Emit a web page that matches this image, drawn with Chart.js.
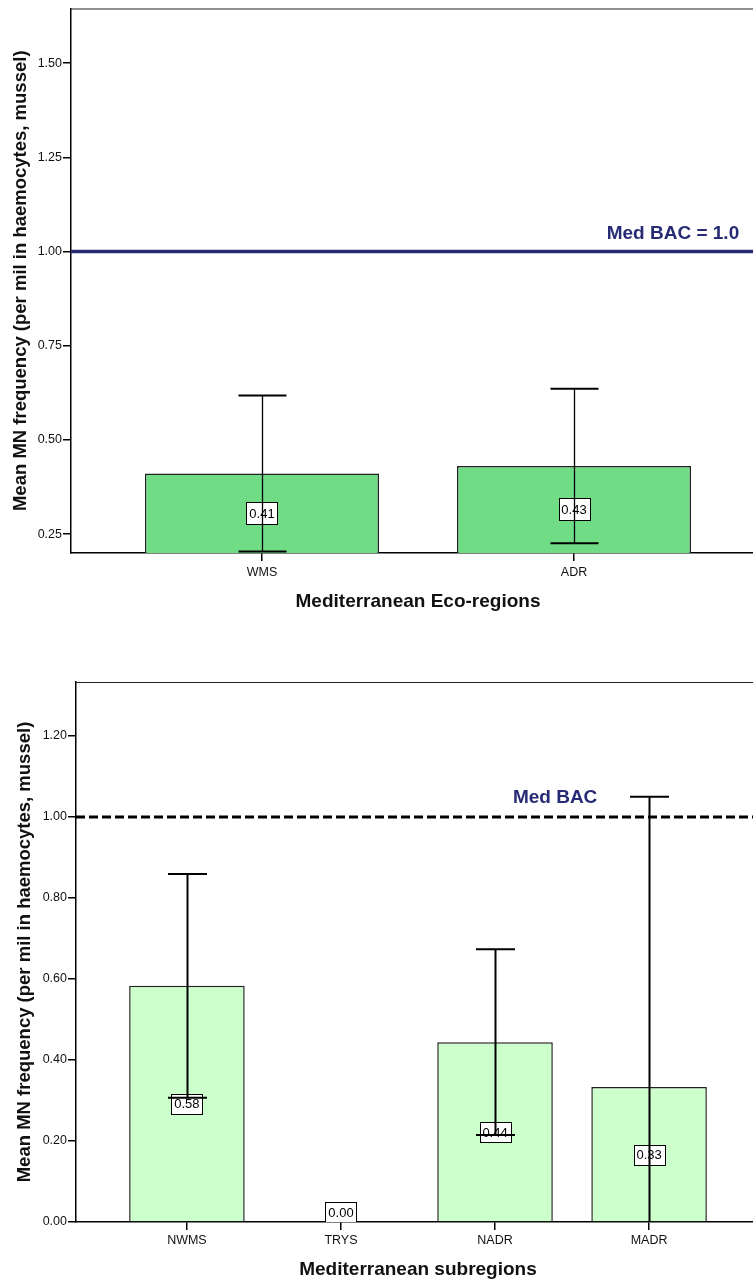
<!DOCTYPE html>
<html lang="en">
<head>
<meta charset="UTF-8">
<title>Mean MN frequency - Mediterranean regions</title>
<script src="https://cdn.jsdelivr.net/npm/chart.js"></script>
<style>
  html, body { margin: 0; padding: 0; background: #fff; overflow: hidden; }
  .frame { position: absolute; left: 0; width: 753px; overflow: hidden; }
  #topBox { top: 0; height: 630px; }
  #botBox { top: 640px; height: 641px; }
  canvas { display: block; }
</style>
</head>
<body>
<div class="frame" id="topBox"><canvas id="ecoChart" width="780" height="630"></canvas></div>
<div class="frame" id="botBox"><canvas id="subChart" width="780" height="641"></canvas></div>

<script>
// eco-regions (top chart)
const ecoLabels = ['WMS', 'ADR'];
const ecoMeans = [0.411, 0.431];
const ecoErrors = [0.207, 0.205];
const ecoYTicks = [0.25, 0.50, 0.75, 1.00, 1.25, 1.50];

// subregions (bottom chart)
const subLabels = ['NWMS', 'TRYS', 'NADR', 'MADR'];
const subMeans = [0.583, 0.00, 0.444, 0.333];
const subErrors = [0.276, 0.00, 0.229, 0.717];
const subYTicks = [0.00, 0.20, 0.40, 0.60, 0.80, 1.00, 1.20];

const medBAC = 1.0;

const FONT = '"Liberation Sans", Arial, Helvetica, sans-serif';
const NAVY = '#272b74';

// frame top, BAC line, value boxes and error bars
const barExtras = {
  id: 'barExtras',
  afterDatasetsDraw(chart, args, o) {
    const { ctx, chartArea: a, scales: { x, y } } = chart;
    ctx.save();

    ctx.strokeStyle = '#222';
    ctx.lineWidth = 1;
    ctx.beginPath();
    ctx.moveTo(a.left, a.top + 0.5);
    ctx.lineTo(a.right, a.top + 0.5);
    ctx.stroke();

    const yb = y.getPixelForValue(o.bac);
    ctx.strokeStyle = o.bacColor;
    ctx.lineWidth = o.bacWidth;
    ctx.setLineDash(o.bacDash);
    ctx.beginPath();
    ctx.moveTo(a.left, yb);
    ctx.lineTo(a.right, yb);
    ctx.stroke();
    ctx.setLineDash([]);

    ctx.font = 'bold 19px ' + FONT;
    ctx.fillStyle = NAVY;
    ctx.textAlign = 'center';
    ctx.textBaseline = 'alphabetic';
    ctx.fillText(o.bacText, x.getPixelForValue(o.bacTextAt), yb - o.bacGap);

    ctx.beginPath();
    ctx.rect(a.left, a.top, a.right - a.left, a.bottom - a.top);
    ctx.clip();

    // value boxes
    ctx.font = '13px ' + FONT;
    ctx.textBaseline = 'middle';
    const base = Math.max(y.min, 0);
    o.means.forEach((m, i) => {
      const cx = x.getPixelForValue(i);
      let cy = y.getPixelForValue((base + m) / 2);
      cy = Math.min(cy, a.bottom - o.boxH / 2);
      const txt = m.toFixed(2);
      const w = Math.round(ctx.measureText(txt).width + 6);
      const bx = Math.round(cx - w / 2) + 0.5, by = Math.round(cy - o.boxH / 2) + 0.5;
      ctx.fillStyle = '#fff';
      ctx.fillRect(bx, by, w, o.boxH);
      ctx.strokeStyle = '#000';
      ctx.lineWidth = 1;
      ctx.strokeRect(bx, by, w, o.boxH);
      ctx.fillStyle = '#000';
      ctx.fillText(txt, cx, cy + 1);
    });

    // error bars
    ctx.strokeStyle = '#000';
    o.means.forEach((m, i) => {
      const e = o.errors[i];
      if (!e) return;
      const cx = Math.round(x.getPixelForValue(i)) + 0.5;
      const hi = y.getPixelForValue(m + e), lo = y.getPixelForValue(m - e);
      ctx.lineWidth = o.stemWidth;
      ctx.beginPath();
      ctx.moveTo(cx, hi);
      ctx.lineTo(cx, lo);
      ctx.stroke();
      ctx.lineWidth = o.capWidth;
      ctx.beginPath();
      ctx.moveTo(cx - o.capLen / 2, hi);
      ctx.lineTo(cx + o.capLen / 2, hi);
      ctx.moveTo(cx - o.capLen / 2, lo);
      ctx.lineTo(cx + o.capLen / 2, lo);
      ctx.stroke();
    });

    ctx.restore();
  }
};

function makeChart(id, s) {
  return new Chart(document.getElementById(id), {
    type: 'bar',
    data: {
      datasets: [{
        data: s.means.map((v, i) => ({ x: i, y: v })),
        backgroundColor: s.fill,
        borderColor: '#222',
        borderWidth: 1.5,
        borderSkipped: 'start',
        barPercentage: 0.75,
        categoryPercentage: 1
      }]
    },
    options: {
      responsive: false,
      animation: false,
      events: [],
      layout: { padding: { left: 0, right: s.padRight, top: s.padTop, bottom: 0 } },
      plugins: {
        legend: { display: false },
        tooltip: { enabled: false },
        barExtras: {
          means: s.means, errors: s.errors,
          bac: medBAC, bacText: s.bacText, bacTextAt: s.bacTextAt, bacGap: s.bacGap,
          bacColor: s.bacColor, bacWidth: s.bacWidth, bacDash: s.bacDash,
          boxH: s.boxH, stemWidth: s.stemWidth, capWidth: 2, capLen: s.capLen
        }
      },
      scales: {
        x: {
          type: 'linear',
          offset: false,
          min: s.xMin, max: s.xMax,
          afterBuildTicks: sc => { sc.ticks = s.labels.map((_, i) => ({ value: i })); },
          afterFit: sc => { sc.height = s.xHeight; },
          ticks: {
            callback: v => s.labels[v],
            font: { family: FONT, size: 12.5 },
            color: '#111',
            padding: s.xTickPad,
            maxRotation: 0,
            autoSkip: false
          },
          grid: { offset: false, drawOnChartArea: false, drawTicks: true, tickLength: 8, color: '#000', lineWidth: 1.5 },
          border: { display: true, color: '#000', width: 1.5 },
          title: {
            display: true, text: s.xTitle, color: '#111',
            font: { family: FONT, size: 19, weight: 'bold' },
            padding: { top: 0, bottom: s.xTitlePad }
          }
        },
        y: {
          min: s.yMin, max: s.yMax,
          afterBuildTicks: sc => { sc.ticks = s.yTicks.map(v => ({ value: v })); },
          afterFit: sc => { sc.width = s.yWidth; },
          ticks: {
            callback: v => v.toFixed(2),
            font: { family: FONT, size: 12.5 },
            color: '#111',
            padding: 1
          },
          grid: { drawOnChartArea: false, drawTicks: true, tickLength: 8, color: '#000', lineWidth: 1.5 },
          border: { display: true, color: '#000', width: 1.5 },
          title: {
            display: true, text: 'Mean MN frequency (per mil in haemocytes, mussel)', color: '#111',
            font: { family: FONT, size: 18.5, weight: 'bold' },
            padding: { top: s.yTitlePad, bottom: 0 }
          }
        }
      }
    },
    plugins: [barExtras]
  });
}

makeChart('ecoChart', {
  labels: ecoLabels, means: ecoMeans, errors: ecoErrors, yTicks: ecoYTicks,
  fill: '#70dc86',
  xMin: -0.612, xMax: 1.612, yMin: 0.2, yMax: 1.645,
  padTop: 7, padRight: 15, xHeight: 77, yWidth: 71,
  xTickPad: 4, xTitlePad: 16.6, yTitlePad: 10,
  xTitle: 'Mediterranean Eco-regions',
  bacText: 'Med BAC = 1.0', bacTextAt: 1.317, bacGap: 13,
  bacColor: NAVY, bacWidth: 3.5, bacDash: [],
  boxH: 22, stemWidth: 1.3, capLen: 48
});

makeChart('subChart', {
  labels: subLabels, means: subMeans, errors: subErrors, yTicks: subYTicks,
  fill: '#ccffcc',
  xMin: -0.72, xMax: 3.72, yMin: 0, yMax: 1.333,
  padTop: 42, padRight: 20, xHeight: 59, yWidth: 76,
  xTickPad: 3, xTitlePad: 0, yTitlePad: 14,
  xTitle: 'Mediterranean subregions',
  bacText: 'Med BAC', bacTextAt: 2.39, bacGap: 14,
  bacColor: '#000', bacWidth: 3, bacDash: [9, 4],
  boxH: 20, stemWidth: 2, capLen: 39
});
</script>
</body>
</html>
